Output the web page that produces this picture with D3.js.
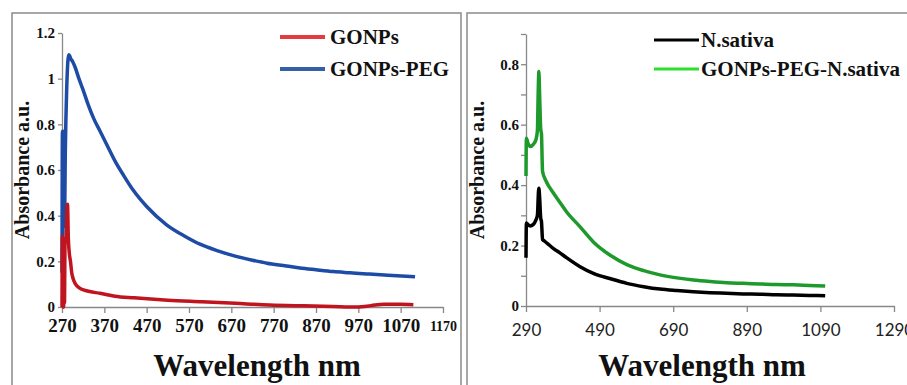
<!DOCTYPE html>
<html>
<head>
<meta charset="utf-8">
<script src="https://cdn.jsdelivr.net/npm/d3@7/dist/d3.min.js"></script>
<style>
  html, body { margin: 0; padding: 0; background: #fff; }
  svg { display: block; }
  .serif { font-family: "Liberation Serif", "Times New Roman", serif; font-weight: bold; }
  .sans { font-family: Lato, "Liberation Sans", sans-serif; }
</style>
</head>
<body>
<svg id="chart" width="907" height="385"></svg>
<script>
// ---------- Data (left panel) ----------
const gonpsWl = [270, 271, 272, 273, 274, 275, 276, 277, 280, 282, 283, 285, 287, 290, 293, 297, 302, 310, 330, 360, 395, 440, 520, 600, 680, 760, 840, 910, 970, 1000, 1030, 1070, 1100];
const gonpsAbs = [0.0, 0.31, 0.0, 0.29, 0.0, 0.3, 0.02, 0.28, 0.3, 0.44, 0.45, 0.3, 0.24, 0.2, 0.15, 0.12, 0.1, 0.085, 0.07, 0.06, 0.047, 0.04, 0.03, 0.023, 0.016, 0.009, 0.005, 0.002, 0.0, 0.006, 0.012, 0.012, 0.01];

const pegWl = [270, 271, 272, 273, 274, 275, 276, 278, 281, 284, 286, 288, 290, 295, 301, 310, 320, 332, 345, 360, 380, 395, 415, 438, 470, 517, 560, 596, 640, 675, 720, 754, 800, 832, 870, 911, 950, 990, 1040, 1104];
const pegAbs = [0.15, 0.77, 0.3, 0.77, 0.35, 0.76, 0.4, 0.7, 0.95, 1.08, 1.105, 1.1, 1.09, 1.075, 1.05, 1.0, 0.95, 0.885, 0.825, 0.77, 0.695, 0.64, 0.578, 0.512, 0.44, 0.36, 0.31, 0.275, 0.245, 0.225, 0.205, 0.192, 0.18, 0.171, 0.163, 0.155, 0.15, 0.145, 0.139, 0.133];

const leftXTicks = [270, 370, 470, 570, 670, 770, 870, 970, 1070, 1170];
const leftYTicks = [0, 0.2, 0.4, 0.6, 0.8, 1, 1.2];

// ---------- Data (right panel) ----------
const nsWl = [290, 291, 295, 301, 310, 317, 321, 324, 325, 327, 330, 332, 335, 340, 350, 364, 382, 400, 437, 473, 520, 564, 610, 654, 700, 745, 790, 835, 880, 926, 970, 1016, 1060, 1103];
const nsAbs = [0.16, 0.275, 0.27, 0.265, 0.27, 0.285, 0.3, 0.38, 0.39, 0.36, 0.29, 0.28, 0.22, 0.215, 0.205, 0.191, 0.176, 0.16, 0.13, 0.108, 0.09, 0.075, 0.064, 0.056, 0.051, 0.047, 0.044, 0.042, 0.04, 0.039, 0.037, 0.036, 0.035, 0.034];

const npnWl = [290, 291, 295, 301, 310, 317, 321, 323, 325, 327, 330, 332, 335, 345, 364, 382, 400, 437, 473, 520, 564, 610, 654, 700, 745, 790, 835, 880, 926, 970, 1016, 1060, 1103];
const npnAbs = [0.43, 0.555, 0.54, 0.528, 0.535, 0.55, 0.58, 0.7, 0.776, 0.7, 0.585, 0.57, 0.445, 0.412, 0.375, 0.343, 0.312, 0.262, 0.212, 0.167, 0.137, 0.117, 0.103, 0.093, 0.086, 0.081, 0.077, 0.075, 0.073, 0.071, 0.07, 0.068, 0.066];

const rightXTicks = [290, 490, 690, 890, 1090, 1290];
const rightYTicks = [0, 0.1, 0.2, 0.3, 0.4, 0.5, 0.6, 0.7, 0.8, 0.9];

const xTitle = "Wavelength nm";
const yTitle = "Absorbance a.u.";

// ---------- Drawing ----------
const svg = d3.select("#chart");
const zip = (a, b) => a.map((v, i) => [v, b[i]]);

// panel frames
svg.append("rect").attr("x", 12).attr("y", 13).attr("width", 449).attr("height", 380)
  .attr("fill", "none").attr("stroke", "#8a8a8a").attr("stroke-width", 1.5);
svg.append("rect").attr("x", 467).attr("y", 13).attr("width", 450).attr("height", 380)
  .attr("fill", "none").attr("stroke", "#8a8a8a").attr("stroke-width", 1.5);

// ----- Left panel -----
const xL = d3.scaleLinear().domain([270, 1170]).range([62, 443]);
const yL = d3.scaleLinear().domain([0, 1.2]).range([307, 33]);

const gL = svg.append("g");
const axXL = gL.append("g").attr("transform", `translate(0,${yL(0)})`)
  .call(d3.axisBottom(xL).tickValues(leftXTicks).tickSize(6).tickSizeOuter(0).tickPadding(5).tickFormat(d3.format("d")));
axXL.selectAll("text").attr("class", "serif").attr("font-size", (d) => d === 1170 ? 14 : 19).attr("fill", "#111")
  .attr("dy", (d) => d === 1170 ? "0.9em" : "0.75em");
const axYL = gL.append("g").attr("transform", `translate(${xL(270)},0)`)
  .call(d3.axisLeft(yL).tickValues(leftYTicks).tickSize(4).tickSizeOuter(0).tickPadding(3).tickFormat((d) => d === 0 || d === 1 ? String(d) : d3.format(".1f")(d)));
axYL.selectAll("text").attr("class", "serif").attr("font-size", 15).attr("fill", "#111");
[axXL, axYL].forEach((a) => { a.select(".domain").attr("stroke", "#888").attr("stroke-width", 1.3); a.selectAll("line").attr("stroke", "#888").attr("stroke-width", 1.3); });

const lineL = d3.line().curve(d3.curveMonotoneX).x((d) => xL(d[0])).y((d) => yL(d[1]));
gL.append("path").datum(zip(pegWl, pegAbs)).attr("d", lineL)
  .attr("fill", "none").attr("stroke", "#1d4ba6").attr("stroke-width", 3.5).attr("stroke-linejoin", "round");
gL.append("path").datum(zip(gonpsWl, gonpsAbs)).attr("d", lineL)
  .attr("fill", "none").attr("stroke", "#c0141e").attr("stroke-width", 3.5).attr("stroke-linejoin", "round");

gL.append("text").attr("class", "serif").attr("font-size", 20).attr("fill", "#111")
  .attr("text-anchor", "middle").attr("transform", "translate(29,170) rotate(-90)").text(yTitle);
gL.append("text").attr("class", "serif").attr("font-size", 31).attr("fill", "#111")
  .attr("text-anchor", "middle").attr("x", 257).attr("y", 376).text(xTitle);

// legend left
const legL = [{name: "GONPs", color: "#e53a40"}, {name: "GONPs-PEG", color: "#3461a5"}];
legL.forEach((d, i) => {
  const y = 37 + i * 32;
  gL.append("line").attr("x1", 280).attr("x2", 325).attr("y1", y).attr("y2", y)
    .attr("stroke", d.color).attr("stroke-width", 4);
  gL.append("text").attr("class", "serif").attr("font-size", 21).attr("fill", "#111")
    .attr("x", 330).attr("y", y).attr("dy", "0.35em").text(d.name);
});

// ----- Right panel -----
const xR = d3.scaleLinear().domain([290, 1290]).range([526, 894]);
const yR = d3.scaleLinear().domain([0, 0.9]).range([306, 34]);

const gR = svg.append("g");
const axXR = gR.append("g").attr("transform", `translate(0,${yR(0)})`)
  .call(d3.axisBottom(xR).tickValues(rightXTicks).tickSize(6).tickSizeOuter(0).tickPadding(12).tickFormat(d3.format("d")));
axXR.selectAll("text").attr("class", "sans").attr("font-size", 17).attr("fill", "#222");
const axYR = gR.append("g").attr("transform", `translate(${xR(290)},0)`)
  .call(d3.axisLeft(yR).tickValues(rightYTicks).tickSize(5).tickSizeOuter(0).tickPadding(2)
    .tickFormat((d) => { const r = Math.round(d * 10); if (r % 2) return ""; return r === 0 ? "0" : d3.format(".1f")(d); }));
axYR.selectAll("text").attr("class", "serif").attr("font-size", 15).attr("fill", "#111");
[axXR, axYR].forEach((a) => { a.select(".domain").attr("stroke", "#888").attr("stroke-width", 1.3); a.selectAll("line").attr("stroke", "#888").attr("stroke-width", 1.3); });

const lineR = d3.line().curve(d3.curveMonotoneX).x((d) => xR(d[0])).y((d) => yR(d[1]));
gR.append("path").datum(zip(npnWl, npnAbs)).attr("d", lineR)
  .attr("fill", "none").attr("stroke", "#1e9a2c").attr("stroke-width", 3.5).attr("stroke-linejoin", "round");
gR.append("path").datum(zip(nsWl, nsAbs)).attr("d", lineR)
  .attr("fill", "none").attr("stroke", "#000").attr("stroke-width", 3.5).attr("stroke-linejoin", "round");

gR.append("text").attr("class", "serif").attr("font-size", 20).attr("fill", "#111")
  .attr("text-anchor", "middle").attr("transform", "translate(484,170) rotate(-90)").text(yTitle);
gR.append("text").attr("class", "serif").attr("font-size", 31).attr("fill", "#111")
  .attr("text-anchor", "middle").attr("x", 702).attr("y", 376).text(xTitle);

const legR = [{name: "N.sativa", color: "#000"}, {name: "GONPs-PEG-N.sativa", color: "#2ee02e"}];
legR.forEach((d, i) => {
  const y = 40 + i * 29;
  gR.append("line").attr("x1", 654).attr("x2", 699).attr("y1", y).attr("y2", y)
    .attr("stroke", d.color).attr("stroke-width", 3);
  gR.append("text").attr("class", "serif").attr("font-size", 21).attr("fill", "#111")
    .attr("x", 701).attr("y", y).attr("dy", "0.35em").text(d.name);
});
</script>
</body>
</html>
